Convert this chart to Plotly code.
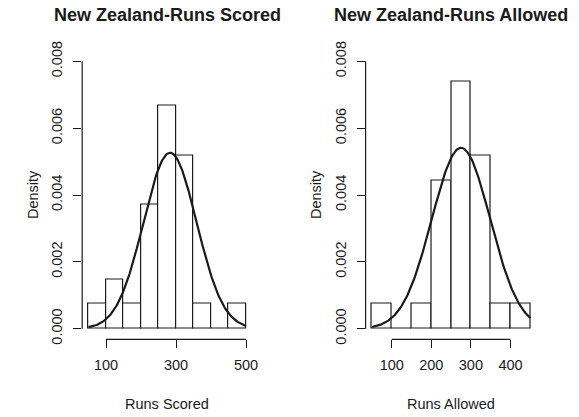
import numpy as np
import plotly.graph_objects as go

# ---- data ----
bin_width = 50
scored_edges = [50, 100, 150, 200, 250, 300, 350, 400, 450, 500]
scored_counts = [1, 2, 1, 5, 9, 7, 1, 0, 1]
allowed_edges = [50, 100, 150, 200, 250, 300, 350, 400, 450]
allowed_counts = [1, 0, 1, 6, 10, 7, 1, 1]
scored_mean, scored_sd = 283, 75.8
allowed_mean, allowed_sd = 275, 73.7
scored_xticks = [100, 300, 500]
allowed_xticks = [100, 200, 300, 400]
y_ticks = [0.000, 0.002, 0.004, 0.006, 0.008]
y_ticklabels = ["0.000", "0.002", "0.004", "0.006", "0.008"]
titles = ["New Zealand-Runs Scored", "New Zealand-Runs Allowed"]
xlabels = ["Runs Scored", "Runs Allowed"]

W, H = 579, 417
FONT = "Liberation Sans, Arial, Helvetica, sans-serif"
FS = 14.5
COL = "#1a1a1a"

fig = go.Figure()

panels = [
    dict(edges=scored_edges, counts=scored_counts, mean=scored_mean, sd=scored_sd,
         xticks=scored_xticks, px=(82.2, 252.3)),
    dict(edges=allowed_edges, counts=allowed_counts, mean=allowed_mean, sd=allowed_sd,
         xticks=allowed_xticks, px=(365.6, 536.6)),
]
y_top_px, y_bot_px = 50.6, 339.4
ydom = [1 - y_bot_px / H, 1 - y_top_px / H]

for i, p in enumerate(panels):
    xa = "x" if i == 0 else "x2"
    ya = "y" if i == 0 else "y2"
    n = sum(p["counts"])
    edges = np.array(p["edges"], dtype=float)
    centers = (edges[:-1] + edges[1:]) / 2
    dens = np.array(p["counts"]) / (n * bin_width)
    fig.add_trace(go.Bar(x=centers, y=dens, width=bin_width, marker=dict(color="white", line=dict(color=COL, width=1.2)),
                         xaxis=xa, yaxis=ya, showlegend=False))
    xs = np.linspace(edges[0], edges[-1], 200)
    ys = np.exp(-0.5 * ((xs - p["mean"]) / p["sd"]) ** 2) / (p["sd"] * np.sqrt(2 * np.pi))
    fig.add_trace(go.Scatter(x=xs, y=ys, mode="lines", line=dict(color=COL, width=2.2),
                             xaxis=xa, yaxis=ya, showlegend=False))
    lo, hi = edges[0], edges[-1]
    pad = 0.04 * (hi - lo)
    xdom = [p["px"][0] / W, p["px"][1] / W]
    axis_common = dict(showgrid=False, zeroline=False, showline=False, ticks="outside", ticklen=8,
                       automargin=False,
                       tickwidth=1.2, tickcolor=COL, tickfont=dict(family=FONT, size=FS, color=COL))
    fig.update_layout({
        ("xaxis" if i == 0 else "xaxis2"): dict(domain=xdom, range=[lo - pad, hi + pad], anchor=ya,
                                                 tickvals=p["xticks"], ticklabelstandoff=4, **axis_common),
        ("yaxis" if i == 0 else "yaxis2"): dict(domain=ydom, range=[-0.00032, 0.00832], anchor=xa,
                                                 tickvals=y_ticks, ticktext=y_ticklabels, tickangle=-90,
                                                 ticklabelstandoff=5, **axis_common),
    })
    # R-style axis lines spanning the tick range
    fig.add_shape(type="line", xref=xa, yref=f"{ya} domain", x0=p["xticks"][0], x1=p["xticks"][-1], y0=0, y1=0,
                  line=dict(color=COL, width=1.2))
    fig.add_shape(type="line", xref=f"{xa} domain", yref=ya, x0=0, x1=0, y0=y_ticks[0], y1=y_ticks[-1],
                  line=dict(color=COL, width=1.2))
    cx = (xdom[0] + xdom[1]) / 2
    fig.add_annotation(text=f"<b>{titles[i]}</b>", x=cx, y=1 - 15 / H, xref="paper", yref="paper",
                       showarrow=False, xanchor="center", yanchor="middle",
                       font=dict(family=FONT, size=18, color=COL))
    fig.add_annotation(text=xlabels[i], x=cx, y=1 - 404 / H, xref="paper", yref="paper",
                       showarrow=False, xanchor="center", yanchor="middle",
                       font=dict(family=FONT, size=FS, color=COL))
    fig.add_annotation(text="Density", x=(33 if i == 0 else 316) / W, y=(ydom[0] + ydom[1]) / 2,
                       xref="paper", yref="paper", textangle=-90, showarrow=False,
                       xanchor="center", yanchor="middle", font=dict(family=FONT, size=FS, color=COL))

fig.update_layout(width=W, height=H, margin=dict(l=0, r=0, t=0, b=0, pad=0),
                  template="none",
                  paper_bgcolor="white", plot_bgcolor="white", bargap=0)
fig.write_html("out.html", config={"displayModeBar": False},
               post_script="document.body.style.margin='0';document.body.style.overflow='hidden';")
